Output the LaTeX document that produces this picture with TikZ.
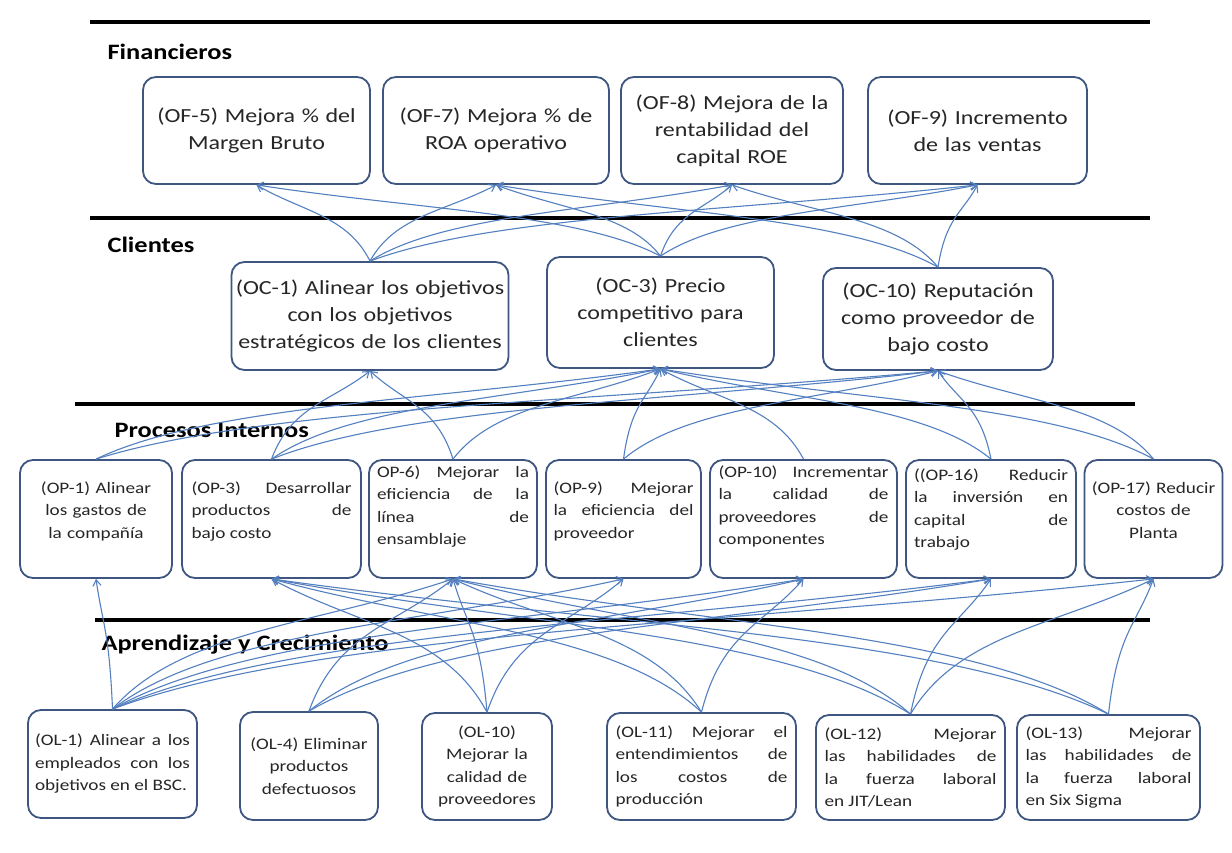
\documentclass[tikz,border=0pt]{standalone}
\usepackage{fontspec}
\setmainfont{Carlito}[FakeStretch=1.2]
\usetikzlibrary{arrows.meta,calc}
\definecolor{boxc}{RGB}{62,86,128}
\definecolor{linkc}{RGB}{84,128,192}
\tikzset{
  obj/.style={draw=boxc, line width=1.8pt, rounded corners=13pt, inner sep=3.5pt, text=black!85},
  big/.style={obj, align=center, font=\fontsize{20}{27}\selectfont},
  small/.style={obj, font=\fontsize{16}{22.5}\selectfont},
  pthree/.style={small, inner ysep=0pt, minimum height=118pt, text height=12pt, text depth=64pt},
  pfour/.style={small, inner ysep=0pt, minimum height=118pt, text height=12pt, text depth=96pt},
  title/.style={anchor=west, font=\fontsize{22}{26}\selectfont\bfseries},
  sep/.style={line width=4pt, black},
  link/.style={draw=linkc, line width=1.1pt, -{Straight Barb[length=6pt,width=8pt]}}
}
\newcommand\lnk[2]{\draw[link] let \p1=(#1.north), \p2=(#2.south) in (\p1) .. controls ({\x1+0.2*(\x2-\x1)},{\y1+0.6*(\y2-\y1)}) and ({\x2-0.4*(\x2-\x1)},{\y2-0.35*(\y2-\y1)}) .. (\p2);}
\begin{document}
\begin{tikzpicture}[x=1pt,y=-1pt]
\useasboundingbox[fill=white] (0,0) rectangle (1232,852);
% separators
\coordinate (s1a) at (90,22);  \coordinate (s1b) at (1150,22);
\coordinate (s2a) at (90,218); \coordinate (s2b) at (1150,218);
\coordinate (s3a) at (75,404); \coordinate (s3b) at (1135,404);
\coordinate (s4a) at (95,620); \coordinate (s4b) at (1150,620);
\draw[sep] (s1a) -- (s1b);
\draw[sep] (s2a) -- (s2b);
\draw[sep] (s3a) -- (s3b);
\draw[sep] (s4a) -- (s4b);
% titles
\node[title] (tf) at (104,52) {Financieros};
\node[title] (tc) at (104,245) {Clientes};
\node[title] (tp) at (111,430) {Procesos Internos};
\node[title] (ta) at (98,645) {Aprendizaje y Crecimiento};
% Financieros
\node[big, minimum width=227pt, minimum height=107pt, text width=215pt] (of5) at (256.5,130.5) {(OF-5) Mejora \% del\\Margen Bruto};
\node[big, minimum width=226pt, minimum height=107pt, text width=214pt] (of7) at (496,130.5) {(OF-7) Mejora \% de\\ROA operativo};
\node[big, minimum width=222pt, minimum height=107pt, text width=210pt] (of8) at (732,130.5) {(OF-8) Mejora de la\\rentabilidad del\\capital ROE};
\node[big, minimum width=219pt, minimum height=107pt, text width=207pt] (of9) at (977.5,130.5) {(OF-9) Incremento\\de las ventas};
% Clientes
\node[big, minimum width=276pt, minimum height=108pt, text width=270pt] (oc1) at (370,316) {(OC-1) Alinear los objetivos\\con los objetivos\\estratégicos de los clientes};
\node[big, minimum width=227pt, minimum height=111pt, text width=215pt] (oc3) at (660.5,312.5) {(OC-3) Precio\\competitivo para\\clientes};
\node[big, minimum width=230pt, minimum height=102pt, text width=218pt] (oc10) at (938,319) {(OC-10) Reputación\\como proveedor de\\bajo costo};
% Procesos Internos
\node[pthree, align=center, minimum width=152pt, text width=142pt] (op1) at (96,519) {(OP-1) Alinear\\los gastos de\\la compañía};
\node[pthree, align=justify, minimum width=179pt, text width=160pt] (op3) at (271.5,519) {(OP-3) Desarrollar\linebreak productos de\linebreak bajo costo};
\node[pfour, align=justify, minimum width=168pt, text width=152pt] (op6) at (453,519) {OP-6) Mejorar la\linebreak eficiencia de la\linebreak línea de\linebreak ensamblaje};
\node[pthree, align=justify, minimum width=155pt, text width=140pt] (op9) at (623.5,519) {(OP-9) Mejorar\linebreak la eficiencia del\linebreak proveedor};
\node[pfour, align=justify, minimum width=187pt, text width=170pt] (op10) at (803.5,519) {(OP-10) Incrementar\linebreak la calidad de\linebreak proveedores de\linebreak componentes};
\node[pfour, align=justify, minimum width=170pt, text width=154pt, text height=15pt, text depth=93pt] (op16) at (991,519) {((OP-16) Reducir\linebreak la inversión en\linebreak capital de\linebreak trabajo};
\node[pthree, align=center, minimum width=137pt, text width=131pt] (op17) at (1153.5,519) {(OP-17) Reducir\\costos de\\Planta};
% Aprendizaje y Crecimiento
\node[small, align=justify, minimum width=169pt, minimum height=108pt, text width=155pt] (ol1) at (112.5,764) {(OL-1) Alinear a los\linebreak empleados con los\linebreak objetivos en el BSC.};
\node[small, align=center, minimum width=138pt, minimum height=108pt, text width=130pt] (ol4) at (309,766) {(OL-4) Eliminar\\productos\\defectuosos};
\node[small, align=center, minimum width=130pt, minimum height=107pt, text width=122pt] (ol10) at (487,766.5) {(OL-10)\\Mejorar la\\calidad de\\proveedores};
\node[small, align=justify, minimum width=189pt, minimum height=107pt, text width=172pt] (ol11) at (701.5,766.5) {(OL-11) Mejorar el\linebreak entendimientos de\linebreak los costos de\linebreak producción};
\node[small, align=justify, minimum width=189pt, minimum height=105pt, text width=172pt] (ol12) at (910.5,767.5) {(OL-12) Mejorar\linebreak las habilidades de\linebreak la fuerza laboral\linebreak en JIT/Lean};
\node[small, align=justify, minimum width=183pt, minimum height=105pt, text width=166pt] (ol13) at (1108.5,767.5) {(OL-13) Mejorar\linebreak las habilidades de\linebreak la fuerza laboral\linebreak en Six Sigma};
% Clientes -> Financieros
\lnk{oc1}{of5}\lnk{oc1}{of7}\lnk{oc1}{of8}\lnk{oc1}{of9}
\lnk{oc3}{of5}\lnk{oc3}{of7}\lnk{oc3}{of8}\lnk{oc3}{of9}
\lnk{oc10}{of7}\lnk{oc10}{of8}\lnk{oc10}{of9}
% Procesos -> Clientes
\lnk{op1}{oc3}\lnk{op1}{oc10}
\lnk{op3}{oc1}\lnk{op3}{oc3}\lnk{op3}{oc10}
\lnk{op6}{oc1}\lnk{op6}{oc3}
\lnk{op9}{oc3}\lnk{op9}{oc10}
\lnk{op10}{oc3}
\lnk{op16}{oc3}\lnk{op16}{oc10}
\lnk{op17}{oc3}\lnk{op17}{oc10}
% Aprendizaje -> Procesos
\lnk{ol1}{op1}\lnk{ol1}{op6}\lnk{ol1}{op9}\lnk{ol1}{op10}\lnk{ol1}{op16}\lnk{ol1}{op17}
\lnk{ol4}{op6}\lnk{ol4}{op10}\lnk{ol4}{op16}
\lnk{ol10}{op3}\lnk{ol10}{op6}\lnk{ol10}{op9}
\lnk{ol11}{op3}\lnk{ol11}{op6}\lnk{ol11}{op10}
\lnk{ol12}{op3}\lnk{ol12}{op6}\lnk{ol12}{op16}\lnk{ol12}{op17}
\lnk{ol13}{op3}\lnk{ol13}{op6}\lnk{ol13}{op17}
\end{tikzpicture}
\end{document}
